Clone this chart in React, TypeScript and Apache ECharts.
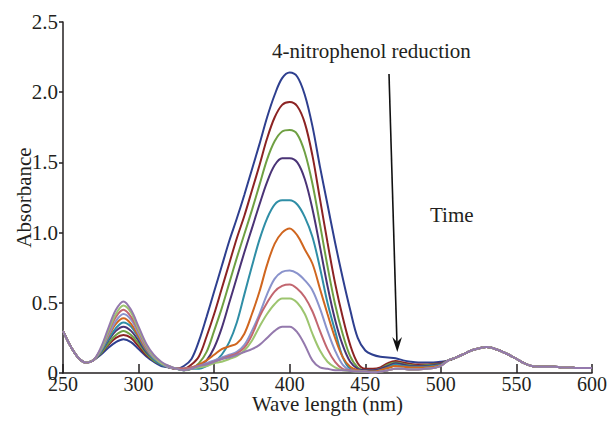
import React, { useEffect, useRef } from "react";
import * as echarts from "echarts";

// Wavelengths 250..600 nm every 5 nm
const wavelengths = [
  250, 255, 260, 265, 270, 275, 280, 285, 290, 295, 300, 305, 310, 315, 320, 325,
  330, 335, 340, 345, 350, 355, 360, 365, 370, 375, 380, 385, 390, 395,
  400, 405, 410, 415, 420, 425, 430, 435, 440, 445,
  450, 455, 460, 465, 470, 475, 480, 485, 490, 495, 500,
  505, 510, 515, 520, 525, 530, 535, 540, 545, 550, 555, 560, 565, 570, 575, 580, 585, 590, 595, 600,
];

// common tail 505..600
const tail = [0.09, 0.11, 0.135, 0.16, 0.175, 0.185, 0.175, 0.155, 0.13, 0.1, 0.07, 0.05, 0.045, 0.045, 0.045, 0.04, 0.04, 0.035, 0.035, 0.035];
// bundle 450..500 of the most reduced curves
const lowBundle = [0.01, 0.005, 0.01, 0.02, 0.03, 0.03, 0.025, 0.025, 0.03, 0.035, 0.05];

const curveBlue = [
  0.3, 0.19, 0.11, 0.075, 0.09, 0.13, 0.18, 0.22, 0.24, 0.22, 0.17, 0.12, 0.08, 0.05, 0.04, 0.03,
  0.05, 0.1, 0.23, 0.4, 0.58, 0.76, 0.94, 1.1, 1.27, 1.45, 1.63, 1.82, 1.98, 2.1,
  2.14, 2.11, 1.98, 1.76, 1.47, 1.2, 0.93, 0.68, 0.45, 0.25,
  0.16, 0.13, 0.115, 0.11, 0.105, 0.09, 0.08, 0.075, 0.075, 0.075, 0.08,
];
const curveRed = [
  0.3, 0.19, 0.11, 0.075, 0.09, 0.14, 0.2, 0.25, 0.27, 0.25, 0.19, 0.13, 0.09, 0.06, 0.04, 0.03,
  0.03, 0.06, 0.12, 0.26, 0.42, 0.6, 0.78, 0.96, 1.12, 1.3, 1.48, 1.67, 1.82, 1.91,
  1.93, 1.9, 1.78, 1.55, 1.24, 0.93, 0.64, 0.4, 0.2, 0.07,
  0.03, 0.03, 0.04, 0.07, 0.085, 0.075, 0.065, 0.06, 0.06, 0.065, 0.07,
];
const curveGreen = [
  0.3, 0.19, 0.11, 0.075, 0.09, 0.14, 0.21, 0.27, 0.3, 0.27, 0.21, 0.14, 0.09, 0.06, 0.04, 0.03,
  0.02, 0.03, 0.07, 0.15, 0.3, 0.46, 0.64, 0.82, 0.99, 1.16, 1.34, 1.52, 1.65, 1.72,
  1.73, 1.7, 1.57, 1.35, 1.06, 0.76, 0.49, 0.28, 0.12, 0.04,
  0.02, 0.02, 0.03, 0.06, 0.075, 0.065, 0.055, 0.05, 0.055, 0.06, 0.065,
];
const curveIndigo = [
  0.3, 0.19, 0.11, 0.075, 0.09, 0.15, 0.23, 0.3, 0.33, 0.3, 0.23, 0.15, 0.1, 0.06, 0.04, 0.03,
  0.02, 0.03, 0.05, 0.09, 0.18, 0.32, 0.5, 0.68, 0.86, 1.03, 1.2, 1.36, 1.48, 1.53,
  1.53, 1.5, 1.38, 1.17, 0.9, 0.62, 0.38, 0.2, 0.08, 0.03,
  0.02, 0.02, 0.03, 0.05, 0.07, 0.06, 0.05, 0.05, 0.05, 0.055, 0.065,
];
const curveTeal = [
  0.3, 0.19, 0.11, 0.075, 0.09, 0.15, 0.24, 0.32, 0.36, 0.33, 0.25, 0.16, 0.1, 0.06, 0.04, 0.03,
  0.02, 0.03, 0.03, 0.05, 0.08, 0.13, 0.22, 0.36, 0.56, 0.76, 0.95, 1.1, 1.2, 1.23,
  1.23, 1.2, 1.11, 0.97, 0.75, 0.5, 0.3, 0.115, 0.03, 0.02,
  0.01, 0.01, 0.02, 0.04, 0.06, 0.05, 0.045, 0.045, 0.045, 0.05, 0.06,
];
const curveOrange = [
  0.3, 0.19, 0.11, 0.075, 0.09, 0.16, 0.26, 0.35, 0.39, 0.35, 0.26, 0.17, 0.11, 0.07, 0.04, 0.03,
  0.03, 0.04, 0.06, 0.09, 0.13, 0.17, 0.19, 0.21, 0.28, 0.42, 0.58, 0.77, 0.92, 1.0,
  1.03, 0.98, 0.88, 0.78, 0.6, 0.42, 0.25, 0.115, 0.045, 0.02,
  0.01, 0.01, 0.02, 0.035, 0.05, 0.045, 0.04, 0.04, 0.04, 0.045, 0.055,
];
const curveLightBlue = [
  0.3, 0.19, 0.11, 0.075, 0.09, 0.16, 0.27, 0.37, 0.42, 0.38, 0.28, 0.18, 0.11, 0.07, 0.04, 0.03,
  0.03, 0.04, 0.05, 0.07, 0.09, 0.11, 0.13, 0.15, 0.2, 0.3, 0.42, 0.56, 0.67, 0.72,
  0.73, 0.71, 0.66, 0.59, 0.46, 0.3, 0.16, 0.06, 0.02, 0.015,
];
const curvePink = [
  0.3, 0.19, 0.11, 0.075, 0.09, 0.17, 0.29, 0.4, 0.45, 0.4, 0.3, 0.19, 0.12, 0.07, 0.05, 0.03,
  0.03, 0.04, 0.05, 0.06, 0.08, 0.1, 0.12, 0.14, 0.18, 0.27, 0.4, 0.5, 0.58, 0.62,
  0.63, 0.6, 0.54, 0.44, 0.3, 0.17, 0.08, 0.03, 0.02, 0.015,
];
const curveLightGreen = [
  0.3, 0.19, 0.11, 0.075, 0.09, 0.17, 0.3, 0.42, 0.48, 0.43, 0.31, 0.2, 0.12, 0.07, 0.05, 0.03,
  0.02, 0.03, 0.04, 0.05, 0.07, 0.08, 0.1, 0.12, 0.16, 0.23, 0.33, 0.42, 0.49, 0.53,
  0.53, 0.5, 0.42, 0.28, 0.16, 0.08, 0.04, 0.02, 0.015, 0.01,
];
const curvePurple = [
  0.3, 0.19, 0.11, 0.075, 0.09, 0.18, 0.32, 0.45, 0.51, 0.45, 0.33, 0.21, 0.13, 0.08, 0.05, 0.03,
  0.02, 0.03, 0.05, 0.06, 0.08, 0.1, 0.11, 0.13, 0.15, 0.17, 0.2, 0.25, 0.3, 0.33,
  0.33, 0.29, 0.2, 0.09, 0.04, 0.03, 0.02, 0.02, 0.015, 0.01,
];

const curves = [
  [...curveBlue, ...tail],
  [...curveRed, ...tail],
  [...curveGreen, ...tail],
  [...curveIndigo, ...tail],
  [...curveTeal, ...tail],
  [...curveOrange, ...tail],
  [...curveLightBlue, ...lowBundle, ...tail],
  [...curvePink, ...lowBundle, ...tail],
  [...curveLightGreen, ...lowBundle, ...tail],
  [...curvePurple, ...lowBundle, ...tail],
];
const curveColors = [
  "#2e3f8f", "#8c2323", "#6fa043", "#4a3376", "#2f8ea6",
  "#d0661f", "#8a93cc", "#c2666f", "#9dc56f", "#9479ad",
];

const xTicks = [250, 300, 350, 400, 450, 500, 550, 600];
const yTicks = [0, 0.5, 1.0, 1.5, 2.0, 2.5];

const FONT = "'Liberation Serif', 'Times New Roman', serif";
const INK = "#231f20";

export default function App() {
  const ref = useRef<HTMLDivElement>(null);
  useEffect(() => {
    if (!ref.current) return;
    const chart = echarts.init(ref.current, undefined, { renderer: "svg" });
    chart.setOption({
      animation: false,
      backgroundColor: "#ffffff",
      grid: { left: 63, right: 17, top: 22, bottom: 55 },
      xAxis: {
        type: "value",
        min: xTicks[0],
        max: xTicks[xTicks.length - 1],
        interval: 50,
        name: "Wave length (nm)",
        nameLocation: "middle",
        nameGap: 31,
        nameMoveOverlap: false,
        nameTextStyle: { fontFamily: FONT, fontSize: 21, color: INK, verticalAlign: "middle" },
        axisLine: { show: true, lineStyle: { color: INK, width: 1.5 } },
        axisTick: { show: true, inside: true, length: 9, lineStyle: { color: INK, width: 1.5 } },
        axisLabel: { fontFamily: FONT, fontSize: 20, color: INK, margin: 1 },
        splitLine: { show: false },
      },
      yAxis: {
        type: "value",
        min: yTicks[0],
        max: yTicks[yTicks.length - 1],
        interval: 0.5,
        name: "Absorbance",
        nameLocation: "middle",
        nameGap: 39,
        nameMoveOverlap: false,
        nameTextStyle: { fontFamily: FONT, fontSize: 21, color: INK, verticalAlign: "middle" },
        axisLine: { show: true, lineStyle: { color: INK, width: 1.5 } },
        axisTick: { show: true, inside: false, length: 4, lineStyle: { color: INK, width: 1.5 } },
        axisLabel: {
          fontFamily: FONT,
          fontSize: 21,
          color: INK,
          margin: 5,
          formatter: (v: number) => (v === 0 ? "0" : v.toFixed(1)),
        },
        splitLine: { show: false },
      },
      series: curves.map((vals, i) => ({
        type: "line",
        data: wavelengths.map((w, j) => [w, vals[j]]),
        smooth: 0.35,
        showSymbol: false,
        symbol: "none",
        lineStyle: { color: curveColors[i], width: 2 },
        z: 2 + i,
      })),
      graphic: [
        {
          type: "text",
          left: 272,
          top: 40,
          style: { text: "4-nitrophenol reduction", font: `21px ${FONT}`, fill: INK },
        },
        {
          type: "text",
          left: 430,
          top: 204,
          style: { text: "Time", font: `21px ${FONT}`, fill: INK },
        },
        {
          type: "line",
          shape: { x1: 389, y1: 74, x2: 397, y2: 344 },
          style: { stroke: "#111", lineWidth: 1.6 },
        },
        {
          type: "polygon",
          shape: { points: [[397.3, 352], [392.3, 337], [397, 342], [402, 337]] },
          style: { fill: "#111" },
        },
      ],
    });
    return () => chart.dispose();
  }, []);
  return (
    <div
      ref={ref}
      style={{ position: "absolute", left: 0, top: 0, width: 610, height: 428 }}
    />
  );
}
